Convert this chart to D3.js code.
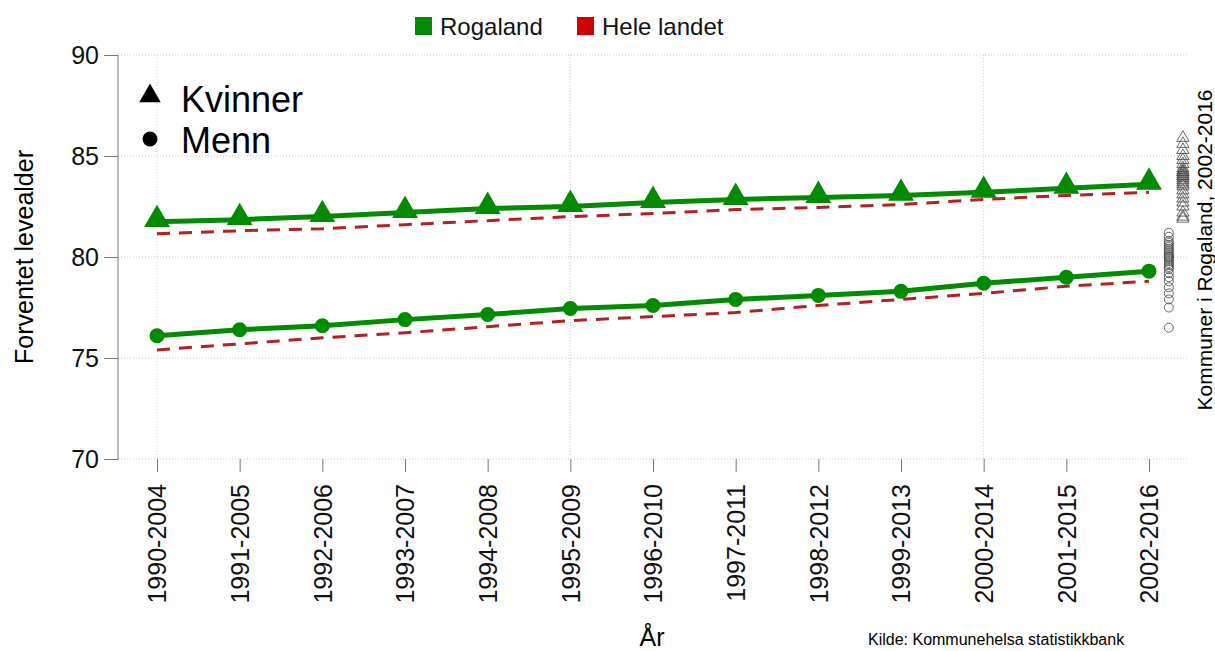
<!DOCTYPE html>
<html>
<head>
<meta charset="utf-8">
<script src="https://cdnjs.cloudflare.com/ajax/libs/d3/7.8.5/d3.min.js"></script>
<style>
	body{ margin:0; background:white; }
	svg{ display:block; font-family:"Liberation Sans", Arial, sans-serif; }
	.axis path, .axis line{ stroke:#777; }
	.axis text{ fill:#111; }
</style>
</head>
<body>
<svg width="1215" height="651"></svg>
<script>
	var perioder = ["1990-2004","1991-2005","1992-2006","1993-2007","1994-2008","1995-2009","1996-2010",
		"1997-2011","1998-2012","1999-2013","2000-2014","2001-2015","2002-2016"];
	var rogalandKvinner = [81.75,81.85,82.0,82.2,82.4,82.5,82.7,82.85,82.95,83.05,83.2,83.4,83.6];
	var landetKvinner   = [81.15,81.3,81.4,81.6,81.8,82.0,82.15,82.35,82.45,82.6,82.85,83.05,83.2];
	var rogalandMenn    = [76.1,76.4,76.6,76.9,77.15,77.45,77.6,77.9,78.1,78.3,78.7,79.0,79.3];
	var landetMenn      = [75.4,75.7,76.0,76.25,76.55,76.85,77.05,77.25,77.6,77.9,78.2,78.55,78.8];
	// kommuner i Rogaland, 2002-2016
	var kommuneKvinner = [85.9,85.6,85.3,85.0,84.8,84.6,84.4,84.3,84.2,84.2,84.1,84.0,84.0,83.9,83.8,
		83.7,83.6,83.5,83.3,83.1,82.9,82.7,82.5,82.2,82.0,81.9];
	var kommuneMenn = [81.2,81.0,80.8,80.7,80.6,80.5,80.4,80.3,80.2,80.1,80.0,80.0,79.9,79.8,79.7,
		79.6,79.5,79.4,79.2,79.0,78.8,78.5,78.2,77.9,77.5,76.5];
	var yTicks = [70,75,80,85,90];

	var gronn = "#008B00", rod = "#B22222";

	var svg = d3.select("svg");
	var x = d3.scalePoint().domain(perioder).range([157,1149]);
	var y = d3.scaleLinear().domain([70,90]).range([459,55]);
	var step = x.step();

	// rutenett
	var grid = svg.append("g").attr("stroke","#ccc").attr("stroke-dasharray","1,2");
	grid.selectAll(".h").data(yTicks).enter().append("line")
		.attr("x1",118).attr("x2",1188)
		.attr("y1",function(d){ return y(d); }).attr("y2",function(d){ return y(d); });
	grid.selectAll(".v").data(perioder.filter(function(d,i){ return i%5===0; })).enter().append("line")
		.attr("x1",function(d){ return x(d); }).attr("x2",function(d){ return x(d); })
		.attr("y1",y(90)).attr("y2",y(70));

	// akser
	var yAxis = svg.append("g").attr("class","axis").attr("transform","translate(118,0)")
		.call(d3.axisLeft(y).tickValues(yTicks).tickSize(14).tickSizeOuter(0).tickPadding(5));
	yAxis.selectAll("text").style("font-size","25px");
	yAxis.select(".domain").attr("d","M0,"+y(90)+"V"+y(70));

	var xAxis = svg.append("g").attr("class","axis").attr("transform","translate(0,459)")
		.call(d3.axisBottom(x).tickSize(13).tickSizeOuter(0));
	xAxis.select(".domain").remove();
	xAxis.selectAll("text")
		.style("font-size","25px")
		.attr("transform","rotate(-90)")
		.attr("text-anchor","end")
		.attr("x",-25).attr("y",0).attr("dy","0.35em");

	var line = d3.line().x(function(d,i){ return x(perioder[i]); }).y(function(d){ return y(d); });

	// hele landet (stiplet)
	[landetKvinner, landetMenn].forEach(function(s){
		svg.append("path").datum(s).attr("d",line)
			.attr("fill","none").attr("stroke",rod).attr("stroke-width",3)
			.attr("stroke-dasharray","13,9");
	});

	// Rogaland
	[rogalandKvinner, rogalandMenn].forEach(function(s){
		svg.append("path").datum(s).attr("d",line)
			.attr("fill","none").attr("stroke",gronn).attr("stroke-width",5);
	});
	var tri = d3.symbol().type(d3.symbolTriangle);
	svg.selectAll(".kv").data(rogalandKvinner).enter().append("path")
		.attr("d",tri.size(290))
		.attr("transform",function(d,i){ return "translate("+x(perioder[i])+","+(y(d)-2)+")"; })
		.attr("fill",gronn);
	svg.selectAll(".mn").data(rogalandMenn).enter().append("circle")
		.attr("cx",function(d,i){ return x(perioder[i]); })
		.attr("cy",function(d){ return y(d); })
		.attr("r",6.5).attr("fill",gronn).attr("stroke",gronn).attr("stroke-width",2);

	// kommuner
	var last = x(perioder[perioder.length-1]);
	svg.selectAll(".kk").data(kommuneKvinner).enter().append("path")
		.attr("d",d3.symbol().type(d3.symbolTriangle).size(65))
		.attr("transform",function(d){ return "translate("+(last+step*0.41)+","+y(d)+")"; })
		.attr("fill","none").attr("stroke","#444").attr("stroke-width",0.8);
	svg.selectAll(".km").data(kommuneMenn).enter().append("circle")
		.attr("cx",last+step*0.24).attr("cy",function(d){ return y(d); })
		.attr("r",4.5).attr("fill","none").attr("stroke","#444").attr("stroke-width",0.8);

	// legende topp
	var leg = [{navn:"Rogaland",farge:gronn,x:415},{navn:"Hele landet",farge:"#CC0000",x:577}];
	var lg = svg.selectAll(".leg").data(leg).enter().append("g")
		.attr("transform",function(d){ return "translate("+d.x+",17)"; });
	lg.append("rect").attr("width",17).attr("height",18).attr("fill",function(d){ return d.farge; });
	lg.append("text").attr("x",25).attr("y",18).style("font-size","24px").attr("fill","#111")
		.text(function(d){ return d.navn; });

	// legende kjønn
	svg.append("path").attr("d",d3.symbol().type(d3.symbolTriangle).size(200))
		.attr("transform","translate(150,96)").attr("fill","black");
	svg.append("circle").attr("cx",150).attr("cy",139).attr("r",7.5).attr("fill","black");
	svg.append("text").attr("x",181).attr("y",112).style("font-size","36px").text("Kvinner");
	svg.append("text").attr("x",181).attr("y",153).style("font-size","36px").text("Menn");

	// titler
	svg.append("text").attr("transform","translate(33,257) rotate(-90)")
		.attr("text-anchor","middle").style("font-size","25px").text("Forventet levealder");
	svg.append("text").attr("x",652).attr("y",646).attr("text-anchor","middle")
		.style("font-size","25px").text("År");
	svg.append("text").attr("x",868).attr("y",645).style("font-size","16px")
		.text("Kilde: Kommunehelsa statistikkbank");
	svg.append("text").attr("transform","translate(1212,250) rotate(-90)")
		.attr("text-anchor","middle").style("font-size","21px").text("Kommuner i Rogaland, 2002-2016");
</script>
</body>
</html>
